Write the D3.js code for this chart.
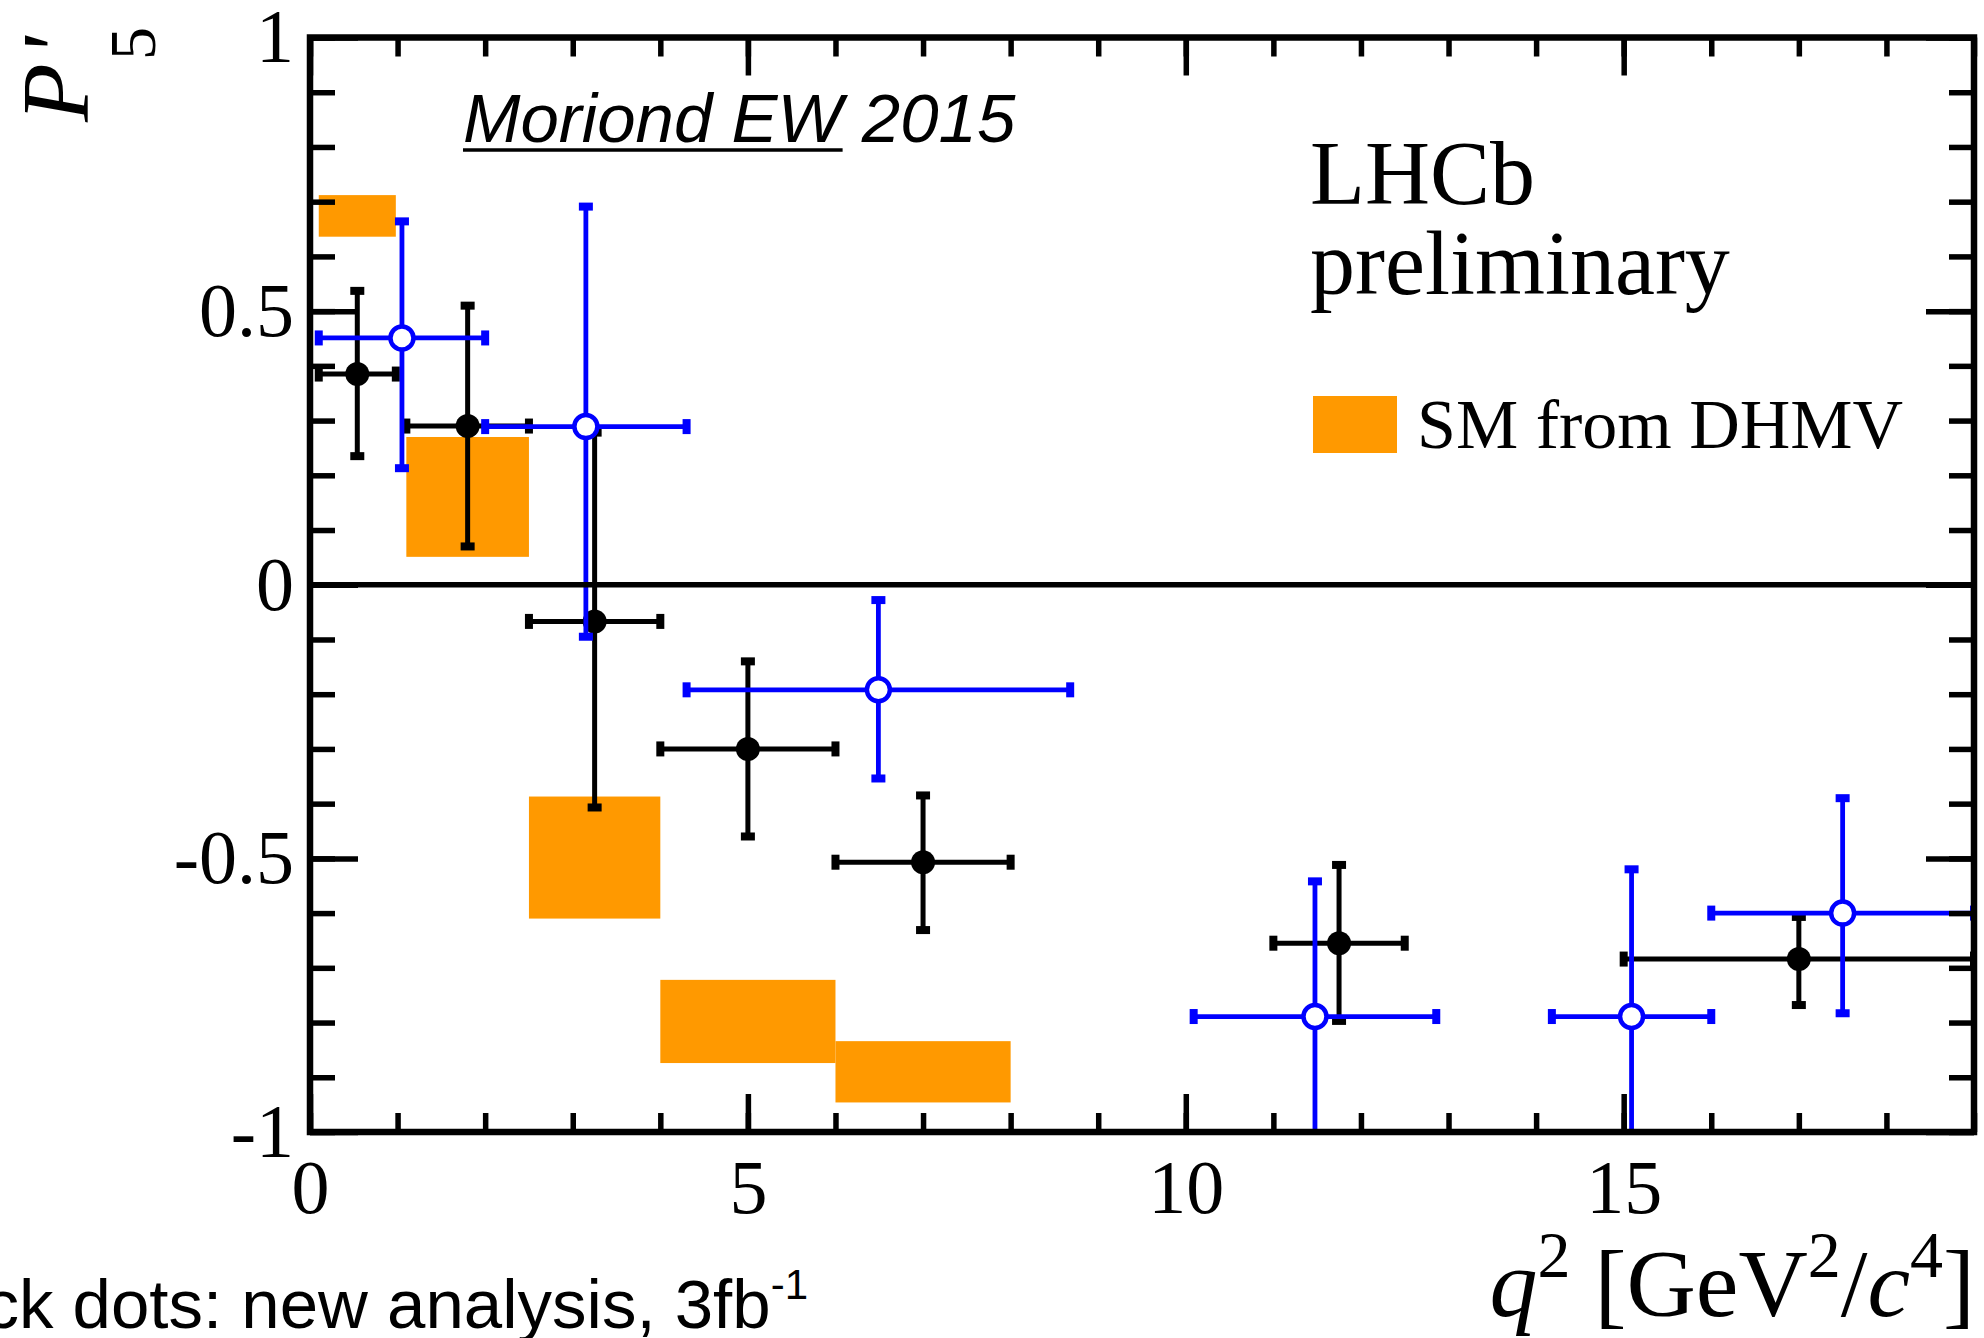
<!DOCTYPE html>
<html>
<head>
<meta charset="utf-8">
<script src="https://cdn.jsdelivr.net/npm/d3@7"></script>
<style>
  html, body { margin: 0; padding: 0; background: #fff; }
  svg { display: block; }
</style>
</head>
<body>
<svg id="chart" width="1984" height="1338"></svg>
<script>
// ---- data -------------------------------------------------------------
// SM prediction boxes (DHMV): q2 bin edges and P5' band
const smLo  = [0.1, 1.1, 2.5, 4.0, 6.0];
const smHi  = [0.98, 2.5, 4.0, 6.0, 8.0];
const smMin = [0.636, 0.051, -0.610, -0.874, -0.946];
const smMax = [0.712, 0.270, -0.387, -0.722, -0.834];

// new analysis, 3 fb^-1 (black filled dots)
const newLo  = [0.1, 1.1, 2.5, 4.0, 6.0, 11.0, 15.0];
const newHi  = [0.98, 2.5, 4.0, 6.0, 8.0, 12.5, 19.0];
const newVal = [0.385, 0.290, -0.067, -0.300, -0.507, -0.655, -0.684];
const newUp  = [0.152, 0.220, 0.345, 0.160, 0.122, 0.143, 0.077];
const newDn  = [0.150, 0.220, 0.340, 0.160, 0.124, 0.142, 0.084];

// previous analysis, 1 fb^-1 (blue open circles)
const oldLo  = [0.1, 2.0, 4.3, 10.09, 14.18, 16.0];
const oldHi  = [2.0, 4.3, 8.68, 12.86, 16.0, 19.0];
const oldVal = [0.451, 0.289, -0.192, -0.789, -0.789, -0.600];
const oldUp  = [0.213, 0.402, 0.164, 0.247, 0.269, 0.210];
const oldDn  = [0.238, 0.384, 0.162, 0.250, 0.270, 0.183];

// axis ticks
const xMajorTicks = [0, 5, 10, 15];
const xTickLabels = ["0", "5", "10", "15"];
const yMajorTicks = [-1, -0.5, 0, 0.5, 1];
const yTickLabels = ["-1", "-0.5", "0", "0.5", "1"];

// ---- layout -----------------------------------------------------------
const L = 310, R = 1974, T = 37.5, B = 1132;
const SERIF = "'Liberation Serif', 'Times New Roman', serif";
const SANS = "'Liberation Sans', Arial, Helvetica, sans-serif";
const ORANGE = "#ff9900", BLUE = "#0000ff";

const svg = d3.select("#chart");
svg.append("rect").attr("width", 1984).attr("height", 1338).attr("fill", "#fff");

const x = d3.scaleLinear().domain([0, 19]).range([L, R]);
const y = d3.scaleLinear().domain([-1, 1]).range([B, T]);

svg.append("defs").append("clipPath").attr("id", "plotclip")
  .append("rect").attr("x", L).attr("y", T).attr("width", R - L).attr("height", B - T);

const plot = svg.append("g").attr("clip-path", "url(#plotclip)");

// SM boxes
plot.append("g").selectAll("rect")
  .data(smLo.map((lo, i) => ({ lo, hi: smHi[i], min: smMin[i], max: smMax[i] })))
  .enter().append("rect")
  .attr("x", d => x(d.lo)).attr("width", d => x(d.hi) - x(d.lo))
  .attr("y", d => y(d.max)).attr("height", d => y(d.min) - y(d.max))
  .attr("fill", ORANGE);

// error-bar crosses with end caps and a marker
function drawSeries(lo, hi, val, up, dn, color, lw, open) {
  const pts = val.map((v, i) => ({ lo: lo[i], hi: hi[i], c: (lo[i] + hi[i]) / 2, v, up: up[i], dn: dn[i] }));
  const g = plot.append("g");
  const p = g.selectAll("g").data(pts).enter().append("g");
  p.append("line")
    .attr("x1", d => x(d.lo)).attr("x2", d => x(d.hi))
    .attr("y1", d => y(d.v)).attr("y2", d => y(d.v))
    .attr("stroke", color).attr("stroke-width", lw);
  p.append("line")
    .attr("x1", d => x(d.c)).attr("x2", d => x(d.c))
    .attr("y1", d => y(d.v - d.dn)).attr("y2", d => y(d.v + d.up))
    .attr("stroke", color).attr("stroke-width", lw);
  // caps on horizontal ends
  ["lo", "hi"].forEach(k => {
    p.append("rect")
      .attr("x", d => x(d[k]) - 4).attr("y", d => y(d.v) - 7.5)
      .attr("width", 8).attr("height", 15).attr("fill", color);
  });
  // caps on vertical ends
  [d => d.v + d.up, d => d.v - d.dn].forEach(f => {
    p.append("rect")
      .attr("x", d => x(d.c) - 7).attr("y", d => y(f(d)) - 4)
      .attr("width", 14).attr("height", 8).attr("fill", color);
  });
  p.append("circle")
    .attr("cx", d => x(d.c)).attr("cy", d => y(d.v))
    .attr("r", open ? 11.5 : 12)
    .attr("fill", open ? "#fff" : color)
    .attr("stroke", open ? color : "none")
    .attr("stroke-width", open ? 4.5 : 0);
}

drawSeries(newLo, newHi, newVal, newUp, newDn, "#000", 5, false);
drawSeries(oldLo, oldHi, oldVal, oldUp, oldDn, BLUE, 4.8, true);

// zero line
svg.append("line")
  .attr("x1", L).attr("x2", R).attr("y1", y(0)).attr("y2", y(0))
  .attr("stroke", "#000").attr("stroke-width", 5.5);

// ---- axes -------------------------------------------------------------
function styleAxis(g) {
  g.select(".domain").remove();
  g.attr("font-family", SERIF).attr("font-size", 76);
  g.selectAll("line").attr("stroke", "#000").attr("stroke-width", 5.5);
  g.selectAll("text").attr("fill", "#000");
}
const minorX = d3.range(0, 20, 1);
const minorY = d3.range(-10, 11).map(i => i / 10);

svg.append("g").attr("transform", `translate(0,${B})`)
  .call(d3.axisBottom(x).tickValues(minorX).tickSize(-19).tickFormat("")).call(styleAxis);
svg.append("g").attr("transform", `translate(0,${B})`)
  .call(d3.axisBottom(x).tickValues(xMajorTicks).tickSize(-38).tickPadding(27)
    .tickFormat((d, i) => xTickLabels[i])).call(styleAxis);
svg.append("g").attr("transform", `translate(0,${T})`)
  .call(d3.axisTop(x).tickValues(minorX).tickSize(-19).tickFormat("")).call(styleAxis);
svg.append("g").attr("transform", `translate(0,${T})`)
  .call(d3.axisTop(x).tickValues(xMajorTicks).tickSize(-38).tickFormat("")).call(styleAxis);

svg.append("g").attr("transform", `translate(${L},0)`)
  .call(d3.axisLeft(y).tickValues(minorY).tickSize(-25).tickFormat("")).call(styleAxis);
svg.append("g").attr("transform", `translate(${L},0)`)
  .call(d3.axisLeft(y).tickValues(yMajorTicks).tickSize(-48).tickPadding(16)
    .tickFormat((d, i) => yTickLabels[i])).call(styleAxis);
svg.append("g").attr("transform", `translate(${R},0)`)
  .call(d3.axisRight(y).tickValues(minorY).tickSize(-25).tickFormat("")).call(styleAxis);
svg.append("g").attr("transform", `translate(${R},0)`)
  .call(d3.axisRight(y).tickValues(yMajorTicks).tickSize(-48).tickFormat("")).call(styleAxis);

// frame
svg.append("rect").attr("x", L).attr("y", T).attr("width", R - L).attr("height", B - T)
  .attr("fill", "none").attr("stroke", "#000").attr("stroke-width", 6.5);

// ---- titles -----------------------------------------------------------
// y title: P'_5, rotated
const yt = svg.append("g").attr("transform", "translate(88,122) rotate(-90)")
  .attr("font-family", SERIF).attr("fill", "#000");
yt.append("text").attr("x", 0).attr("y", 0).attr("font-size", 96).attr("font-style", "italic").text("P");
yt.append("text").attr("x", 65).attr("y", 0).attr("font-size", 96).attr("font-style", "italic").text("'");
yt.append("text").attr("x", 62).attr("y", 67).attr("font-size", 66).text("5");

// x title: q^2 [GeV^2/c^4]
const xt = svg.append("text").attr("x", 1975).attr("y", 1316).attr("text-anchor", "end")
  .attr("font-family", SERIF).attr("font-size", 96).attr("fill", "#000");
xt.append("tspan").attr("font-style", "italic").text("q");
xt.append("tspan").attr("font-size", 66).attr("dy", -39).text("2");
xt.append("tspan").attr("dy", 39).text(" [GeV");
xt.append("tspan").attr("font-size", 66).attr("dy", -39).text("2");
xt.append("tspan").attr("dy", 39).text("/");
xt.append("tspan").attr("font-style", "italic").text("c");
xt.append("tspan").attr("font-size", 66).attr("dy", -39).text("4");
xt.append("tspan").attr("dy", 39).text("]");

// LHCb label
svg.append("text").attr("x", 1310).attr("y", 204).attr("font-family", SERIF)
  .attr("font-size", 90).attr("fill", "#000").text("LHCb");
svg.append("text").attr("x", 1310).attr("y", 294).attr("font-family", SERIF)
  .attr("font-size", 90).attr("fill", "#000").text("preliminary");

// legend
svg.append("rect").attr("x", 1313).attr("y", 396).attr("width", 84).attr("height", 57).attr("fill", ORANGE);
svg.append("text").attr("x", 1417).attr("y", 448).attr("font-family", SERIF)
  .attr("font-size", 70).attr("fill", "#000").text("SM from DHMV");

// conference tag
const mor = svg.append("text").attr("x", 463).attr("y", 142).attr("font-family", SANS)
  .attr("font-style", "italic").attr("font-size", 69).attr("fill", "#000").text("Moriond EW 2015");
const ulen = mor.node().getSubStringLength(0, 10);
svg.append("line").attr("x1", 463).attr("x2", 463 + ulen).attr("y1", 150).attr("y2", 150)
  .attr("stroke", "#000").attr("stroke-width", 3.5);

// note at the bottom
const note = svg.append("text").attr("x", 808).attr("y", 1328).attr("text-anchor", "end")
  .attr("font-family", SANS).attr("font-size", 69).attr("fill", "#000");
note.append("tspan").text("Black dots: new analysis, 3fb");
note.append("tspan").attr("font-size", 42).attr("dy", -29).text("-1");
</script>
</body>
</html>
